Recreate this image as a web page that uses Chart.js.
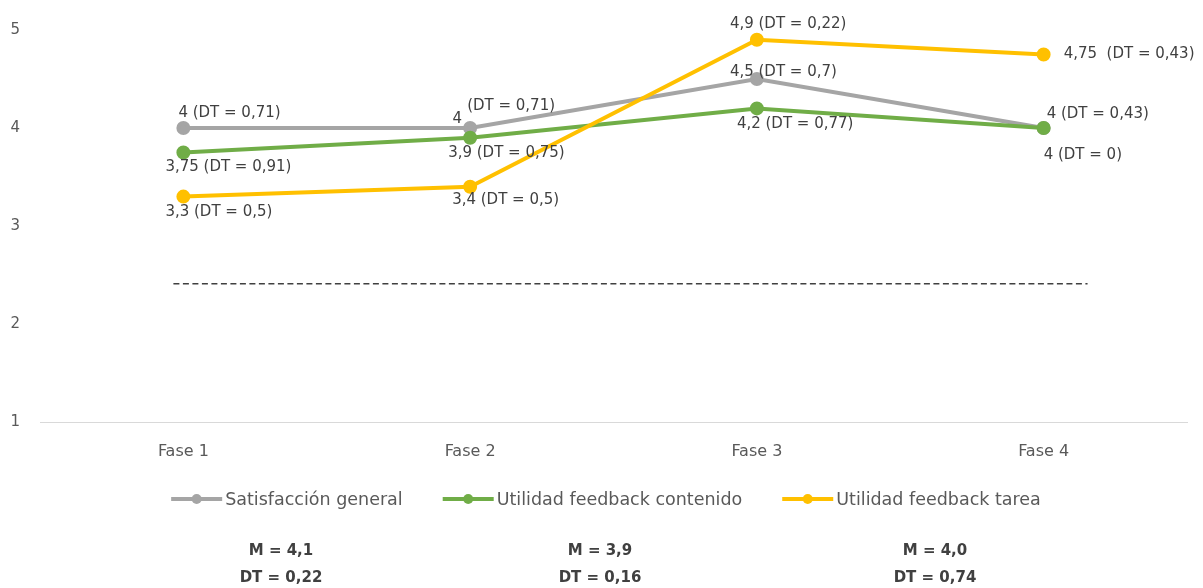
<!DOCTYPE html>
<html><head><meta charset="utf-8">
<script src="https://cdn.jsdelivr.net/npm/chart.js@4.4.0/dist/chart.umd.min.js"></script>
<style>html,body{margin:0;padding:0;background:#fff;overflow:hidden}#wrap{width:1203px;height:588px;position:relative}</style>
</head><body><div id="wrap"><canvas id="c" width="1203" height="588"></canvas></div>
<script>
const categories = ['Fase 1', 'Fase 2', 'Fase 3', 'Fase 4'];
const seriesNames = ['Satisfacción general', 'Utilidad feedback contenido', 'Utilidad feedback tarea'];
const satisfaccion = [4, 4, 4.5, 4];
const contenido = [3.75, 3.9, 4.2, 4];
const tarea = [3.3, 3.4, 4.9, 4.75];
const satisfaccionDT = ['0,71', '0,71', '0,7', '0,43'];
const contenidoDT = ['0,91', '0,75', '0,77', '0'];
const tareaDT = ['0,5', '0,5', '0,22', '0,43'];
const yTicks = [1, 2, 3, 4, 5];
const threshold = 2.41;
const statsM = ['4,1', '3,9', '4,0'];
const statsDT = ['0,22', '0,16', '0,74'];

const colors = ['#A5A5A5', '#70AD47', '#FFC000'];
const FONT = '"DejaVu Sans", sans-serif';
const fmt = v => String(v).replace('.', ',');

// label placement relative to each point (left-aligned, middle baseline)
const labelOffsets = [
  [{dx:-5,dy:-15},{split:true,dx1:-8,dy1:-9,dx2:-3,dy2:-22},{dx:-27,dy:-7},{dx:3,dy:-14}],
  [{dx:-18,dy:15},{dx:-22,dy:15},{dx:-20,dy:16},{dx:0,dy:27}],
  [{dx:-18,dy:16},{dx:-18,dy:13},{dx:-27,dy:-16},{dx:20,dy:0,sep:'  '}]
];
const dtArrays = [satisfaccionDT, contenidoDT, tareaDT];

const extras = {
  id: 'extras',
  beforeDatasetsDraw(chart) {
    const ctx = chart.ctx, ca = chart.chartArea, y = chart.scales.y.getPixelForValue(threshold);
    ctx.save();
    ctx.strokeStyle = '#404040'; ctx.lineWidth = 1.5; ctx.setLineDash([6, 3.5]);
    ctx.beginPath();
    ctx.moveTo(ca.left + ca.width * 0.1163, y);
    ctx.lineTo(ca.left + ca.width * 0.9133, y);
    ctx.stroke();
    ctx.restore();
  },
  afterDatasetsDraw(chart) {
    const ctx = chart.ctx;
    ctx.save();
    ctx.font = '15px ' + FONT; ctx.fillStyle = '#404040'; ctx.textBaseline = 'middle';
    chart.data.datasets.forEach((ds, i) => {
      const meta = chart.getDatasetMeta(i);
      meta.data.forEach((pt, j) => {
        const o = labelOffsets[i][j];
        const v = fmt(ds.data[j]), dt = '(DT = ' + dtArrays[i][j] + ')';
        if (o.split) {
          ctx.textAlign = 'right'; ctx.fillText(v, pt.x + o.dx1, pt.y + o.dy1);
          ctx.textAlign = 'left'; ctx.fillText(dt, pt.x + o.dx2, pt.y + o.dy2);
        } else {
          ctx.textAlign = 'left'; ctx.fillText(v + (o.sep || ' ') + dt, pt.x + o.dx, pt.y + o.dy);
        }
      });
    });
    ctx.restore();
  },
  afterDraw(chart) {
    const ctx = chart.ctx;
    ctx.save();
    // legend
    ctx.font = '17.5px ' + FONT; ctx.textBaseline = 'middle'; ctx.textAlign = 'left';
    const mw = 51, gap = 3, sep = 40, ly = 499;
    const widths = chart.data.datasets.map(d => ctx.measureText(d.label).width);
    const total = widths.reduce((a, w) => a + mw + gap + w, 0) + sep * (widths.length - 1);
    let x = 606 - total / 2;
    chart.data.datasets.forEach((d, i) => {
      ctx.strokeStyle = d.borderColor; ctx.lineWidth = 4; ctx.lineCap = 'butt';
      ctx.beginPath(); ctx.moveTo(x, ly); ctx.lineTo(x + mw, ly); ctx.stroke();
      ctx.fillStyle = d.borderColor; ctx.beginPath(); ctx.arc(x + mw / 2, ly, 5, 0, Math.PI * 2); ctx.fill();
      ctx.fillStyle = '#595959'; ctx.fillText(d.label, x + mw + gap, ly + 1);
      x += mw + gap + widths[i] + sep;
    });
    // stats
    ctx.font = 'bold 15px ' + FONT; ctx.fillStyle = '#404040'; ctx.textAlign = 'center';
    const sx = [281, 600, 935];
    statsM.forEach((m, k) => {
      ctx.fillText('M = ' + m, sx[k], 551);
      ctx.fillText('DT = ' + statsDT[k], sx[k], 578);
    });
    ctx.restore();
  }
};

const seriesData = [satisfaccion, contenido, tarea];
new Chart(document.getElementById('c'), {
  type: 'line',
  data: {
    labels: categories,
    datasets: seriesData.map((d, i) => ({
      label: seriesNames[i], data: d,
      borderColor: colors[i], backgroundColor: colors[i],
      pointBackgroundColor: colors[i], pointBorderColor: colors[i],
      borderWidth: 4, pointRadius: 5, pointHoverRadius: 5, tension: 0,
      order: 2 - i
    }))
  },
  options: {
    responsive: false, animation: false,
    layout: { padding: { top: 30, right: 16, bottom: 116, left: 0 } },
    plugins: { legend: { display: false }, tooltip: { enabled: false } },
    scales: {
      x: {
        offset: true,
        grid: { display: false, drawTicks: false },
        border: { display: true, color: '#D9D9D9', width: 1 },
        ticks: { color: '#595959', font: { family: FONT, size: 16 }, padding: 20 },
        afterFit(s) { s.height = 50; }
      },
      y: {
        min: 1, max: 5,
        grid: { display: false, drawTicks: false },
        border: { display: false },
        afterBuildTicks(s) { s.ticks = yTicks.map(v => ({ value: v })); },
        ticks: { color: '#595959', font: { family: FONT, size: 15 }, padding: 20 },
        afterFit(s) { s.width = 40; }
      }
    }
  },
  plugins: [extras]
});
</script></body></html>
